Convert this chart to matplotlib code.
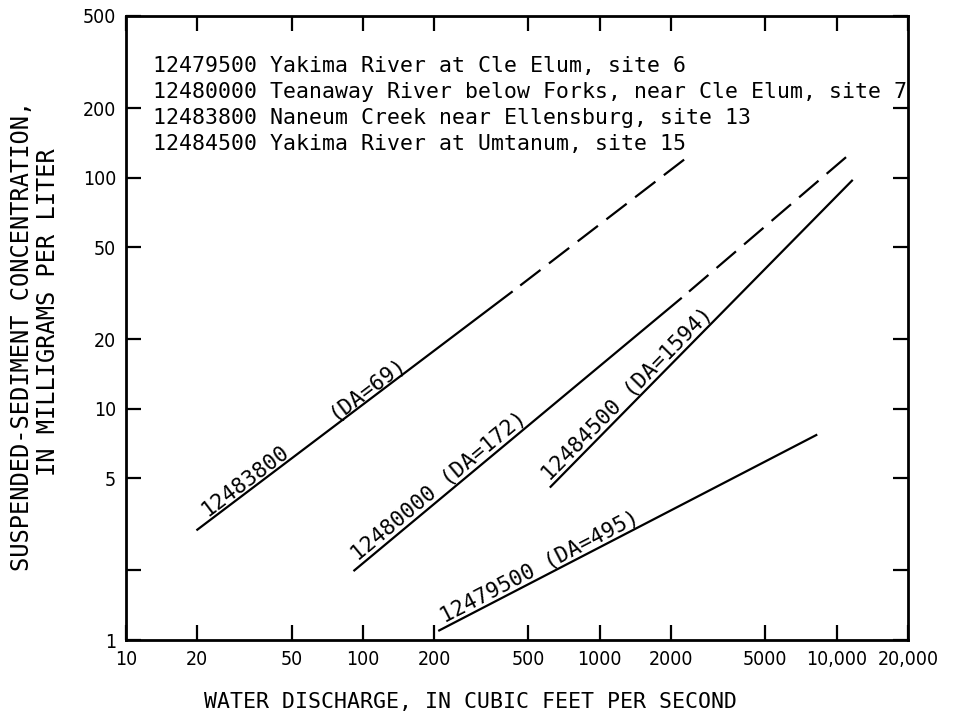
from matplotlib import pyplot as plt
import numpy as np

#%% DATA (log-log, water discharge vs sediment concentration)

# site legend
legend_lines = ["12479500 Yakima River at Cle Elum, site 6",
                "12480000 Teanaway River below Forks, near Cle Elum, site 7",
                "12483800 Naneum Creek near Ellensburg, site 13",
                "12484500 Yakima River at Umtanum, site 15"]

# 12483800 Naneum Creek (DA=69): solid part then dashed extension
q_12483800 = [20, 425]
c_12483800 = [3.0, 32]
q_12483800_ext = [425, 2400]
c_12483800_ext = [32, 125]

# 12480000 Teanaway River (DA=172)
q_12480000 = [92, 2200]
c_12480000 = [2.0, 30]
q_12480000_ext = [2200, 11200]
c_12480000_ext = [30, 125]

# 12484500 Yakima River at Umtanum (DA=1594)
q_12484500 = [620, 11600]
c_12484500 = [4.6, 97]

# 12479500 Yakima River at Cle Elum (DA=495)
q_12479500 = [210, 8200]
c_12479500 = [1.1, 7.7]

# ticks
x_ticks = [10, 20, 50, 100, 200, 500, 1000, 2000, 5000, 10000, 20000]
x_tick_labels = ['10', '20', '50', '100', '200', '500', '1000', '2000', '5000', '10,000', '20,000']
y_ticks = [1, 2, 5, 10, 20, 50, 100, 200, 500]
y_tick_labels = ['1', '', '5', '10', '20', '50', '100', '200', '500']

#%% Figure

mono = 'DejaVu Sans Mono'
W, H = 965, 719
fig = plt.figure(figsize=(W / 100, H / 100), dpi=100)
ax = fig.add_axes([126 / W, 1 - 640 / H, (908 - 126) / W, (640 - 16) / H])
ax.set_xscale('log')
ax.set_yscale('log')
ax.set_xlim(10, 20000)
ax.set_ylim(1, 500)

lw = 1.6
dash = (11.5, 4.8)
ax.plot(q_12483800, c_12483800, 'k-', lw=lw)
ax.plot(q_12483800_ext, c_12483800_ext, 'k', lw=lw, linestyle=(11.5, dash))
ax.plot(q_12480000, c_12480000, 'k-', lw=lw)
ax.plot(q_12480000_ext, c_12480000_ext, 'k', lw=lw, linestyle=(11.5, dash))
ax.plot(q_12484500, c_12484500, 'k-', lw=lw)
ax.plot(q_12479500, c_12479500, 'k-', lw=lw)

# ticks inward on all four sides, major only
ax.xaxis.set_major_locator(plt.FixedLocator(x_ticks))
ax.xaxis.set_minor_locator(plt.NullLocator())
ax.set_xticklabels(x_tick_labels)
ax.yaxis.set_major_locator(plt.FixedLocator(y_ticks))
ax.yaxis.set_minor_locator(plt.NullLocator())
ax.set_yticklabels(y_tick_labels)
ax.tick_params(which='major', direction='in', length=11, width=1.6,
               top=True, right=True, labelsize=14, pad=7)
for lab in ax.get_xticklabels() + ax.get_yticklabels():
    lab.set_fontstretch('condensed')
for sp in ax.spines.values():
    sp.set_linewidth(2.0)


# labels written along the lines
def line_label(qs, cs, x0, txt):
    p0 = ax.transData.transform((qs[0], cs[0]))
    p1 = ax.transData.transform((qs[-1], cs[-1]))
    ang = np.degrees(np.arctan2(p1[1] - p0[1], p1[0] - p0[0]))
    y0 = 10 ** np.interp(np.log10(x0), np.log10(qs), np.log10(cs))
    ax.text(x0, y0, txt, rotation=ang, rotation_mode='anchor',
            ha='left', va='bottom', family=mono, fontsize=15.5)


line_label(q_12483800, c_12483800, 22.5, '12483800')
line_label(q_12483800, c_12483800, 78, '(DA=69)')
line_label(q_12480000, c_12480000, 98, '12480000 (DA=172)')
line_label(q_12484500, c_12484500, 630, '12484500 (DA=1594)')
line_label(q_12479500, c_12479500, 226, '12479500 (DA=495)')

# site list in the upper left
for i, s in enumerate(legend_lines):
    fig.text(153 / W, 1 - (72 + 26 * i) / H, s, family=mono, fontsize=15.5,
             va='baseline', ha='left')

# axis titles
fig.text(471 / W, 1 - 702 / H, 'WATER DISCHARGE, IN CUBIC FEET PER SECOND',
         family=mono, fontsize=15.5, ha='center', va='center')
fig.text(22 / W, 1 - 336 / H, 'SUSPENDED-SEDIMENT CONCENTRATION,',
         family=mono, fontsize=17, rotation=90, ha='center', va='center')
fig.text(48 / W, 1 - 312 / H, 'IN MILLIGRAMS PER LITER',
         family=mono, fontsize=17, rotation=90, ha='center', va='center')

fig.savefig('out.png', dpi=100)
